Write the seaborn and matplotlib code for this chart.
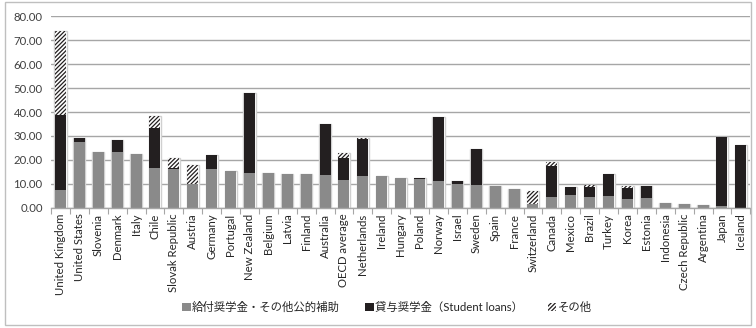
import matplotlib
matplotlib.use("Agg")
import matplotlib.pyplot as plt
from matplotlib.patches import Patch, Rectangle
from matplotlib.ticker import FixedLocator, FormatStrFormatter
import numpy as np
import pandas as pd
import seaborn as sns

countries = [
    "United Kingdom", "United States", "Slovenia", "Denmark", "Italy", "Chile",
    "Slovak Republic", "Austria", "Germany", "Portugal", "New Zealand", "Belgium",
    "Latvia", "Finland", "Australia", "OECD average", "Netherlands", "Ireland",
    "Hungary", "Poland", "Norway", "Israel", "Sweden", "Spain", "France",
    "Switzerland", "Canada", "Mexico", "Brazil", "Turkey", "Korea", "Estonia",
    "Indonesia", "Czech Republic", "Argentina", "Japan", "Iceland",
]
grants = [
    7.5, 27.6, 23.5, 23.2, 22.4, 16.5, 16.3, 10.0, 16.3, 15.4, 14.7, 14.4,
    14.0, 14.0, 13.8, 11.7, 13.3, 13.3, 12.4, 12.1, 11.3, 10.0, 9.6, 9.3,
    8.0, 1.5, 4.4, 5.4, 4.4, 5.0, 3.8, 4.3, 2.2, 1.5, 1.3, 0.8, 0.0,
]
loans = [
    31.3, 1.4, 0.0, 5.1, 0.0, 17.0, 0.5, 0.0, 5.7, 0.0, 33.1, 0.0,
    0.0, 0.0, 21.1, 9.0, 15.3, 0.0, 0.0, 0.5, 26.7, 1.4, 15.0, 0.0,
    0.0, 0.0, 13.2, 3.5, 4.2, 9.0, 4.7, 4.9, 0.0, 0.0, 0.0, 28.9, 26.3,
]
others = [
    35.1, 0.0, 0.0, 0.0, 0.0, 4.8, 3.9, 7.9, 0.0, 0.0, 0.0, 0.0,
    0.0, 0.3, 0.0, 2.4, 0.4, 0.0, 0.0, 0.0, 0.0, 0.0, 0.0, 0.0,
    0.0, 5.6, 1.4, 0.0, 1.0, 0.0, 0.7, 0.0, 0.0, 0.0, 0.0, 0.0, 0.0,
]
y_ticks = [0, 10, 20, 30, 40, 50, 60, 70, 80]
legend_labels = ["給付奨学金・その他公的補助", "貸与奨学金（Student loans）", "その他"]

df = pd.DataFrame({"country": countries, "grant": grants, "loan": loans, "other": others})
df["grant_loan"] = df["grant"] + df["loan"]
df["total"] = df["grant_loan"] + df["other"]

sns.set_theme(style="white")
plt.rcParams["font.family"] = ["Lato", "Noto Sans CJK JP", "DejaVu Sans"]
plt.rcParams["hatch.linewidth"] = 0.9

GRAY = "#8a8a8a"
BLACK = "#231f20"
HATCH = "////////"
BAR_W = 0.58

fig = plt.figure(figsize=(7.56, 3.28), dpi=100)
ax = fig.add_axes([0.0675, 0.366, 0.925, 0.585])

# soft outline behind each stacked column
sns.barplot(data=df, x="country", y="total", order=countries, color="white",
            saturation=1, width=BAR_W + 0.06, edgecolor="#d0d0d0", linewidth=1.0,
            errorbar=None, ax=ax)
# "other" segment (hatched), drawn as the full stack height
sns.barplot(data=df, x="country", y="total", order=countries, color="white",
            saturation=1, width=BAR_W, edgecolor=BLACK, linewidth=0,
            hatch=HATCH, errorbar=None, ax=ax)
# student loans
sns.barplot(data=df, x="country", y="grant_loan", order=countries, color=BLACK,
            saturation=1, width=BAR_W, linewidth=0, errorbar=None, ax=ax)
# grants and other public support
sns.barplot(data=df, x="country", y="grant", order=countries, color=GRAY,
            saturation=1, width=BAR_W, linewidth=0, errorbar=None, ax=ax)

ax.set_ylim(0, 80)
ax.set_xlim(-0.5, len(countries) - 0.5)
ax.yaxis.set_major_locator(FixedLocator(y_ticks))
ax.yaxis.set_major_formatter(FormatStrFormatter("%.2f"))
ax.grid(axis="y", color="#a6a6a6", linewidth=1.0)
ax.set_axisbelow(True)
for side in ("left", "right", "top"):
    ax.spines[side].set_visible(False)
ax.spines["bottom"].set_color("#a6a6a6")
ax.spines["bottom"].set_linewidth(1.0)
ax.set_xlabel("")
ax.set_ylabel("")
ax.tick_params(axis="y", length=0, labelsize=8.2, labelcolor="#404040", pad=6)
ax.tick_params(axis="x", which="major", length=0, labelsize=8.2,
               labelcolor="#262626", labelrotation=90, pad=4)
ax.xaxis.set_minor_locator(FixedLocator(np.arange(-0.5, len(countries), 1.0)))
ax.tick_params(axis="x", which="minor", length=4, color="#a6a6a6", width=0.8,
               bottom=True)

handles = [
    Patch(facecolor=GRAY, edgecolor="none"),
    Patch(facecolor=BLACK, edgecolor="none"),
    Patch(facecolor="white", edgecolor=BLACK, linewidth=0, hatch=HATCH),
]
fig.legend(handles, legend_labels, loc="lower center", bbox_to_anchor=(0.512, 0.015),
           ncol=3, frameon=False, fontsize=8.2, handlelength=0.75, handleheight=0.75,
           handletextpad=0.1, columnspacing=2.2, labelcolor="#262626")

# chart area frame
fig.patches.append(Rectangle((0.006, 0.008), 0.988, 0.985, transform=fig.transFigure,
                             fill=False, edgecolor="#bfbfbf", linewidth=1.0))

fig.savefig("out.png", dpi=100)
